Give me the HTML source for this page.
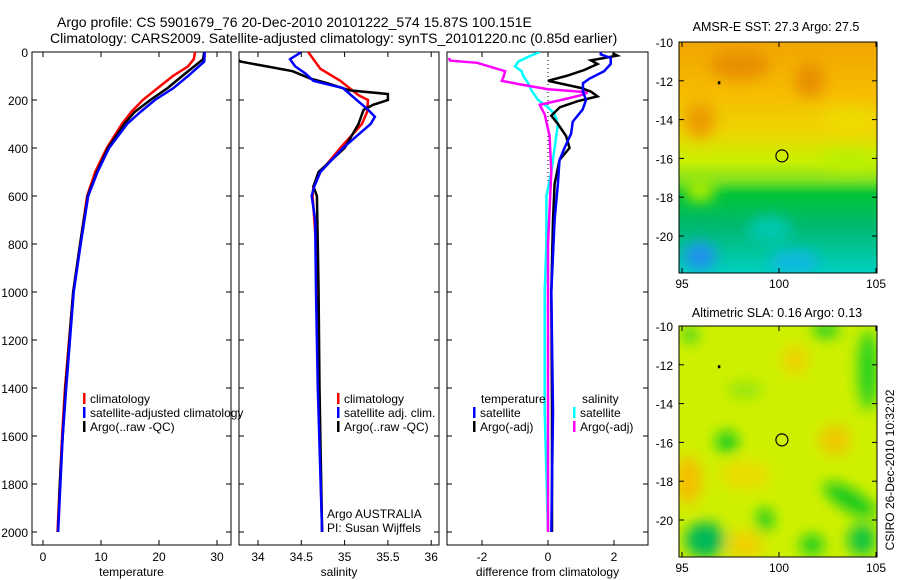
<!DOCTYPE html>
<html><head><meta charset="utf-8">
<style>
body{margin:0;background:#fff;}
svg{display:block;font-family:"Liberation Sans",sans-serif;}
text{fill:#000;}
</style></head>
<body>
<svg id="fig" width="900" height="580" viewBox="0 0 900 580" xmlns="http://www.w3.org/2000/svg">
<defs>
<filter id="blur" x="-20%" y="-20%" width="140%" height="140%"><feGaussianBlur stdDeviation="7"/></filter>
<clipPath id="c1"><rect x="32" y="52" width="199" height="493"/></clipPath>
<clipPath id="c2"><rect x="239" y="52" width="200" height="493"/></clipPath>
<clipPath id="c3"><rect x="447" y="52" width="201" height="493"/></clipPath>
<clipPath id="cm1"><rect x="679" y="42" width="198" height="231"/></clipPath>
<clipPath id="cm2"><rect x="679" y="326" width="198" height="231"/></clipPath>
<linearGradient id="sstg" x1="0" y1="0" x2="0" y2="1">
<stop offset="0" stop-color="#f0a400"/><stop offset="0.22" stop-color="#f6bc00"/>
<stop offset="0.38" stop-color="#eed400"/><stop offset="0.52" stop-color="#c8f000"/>
<stop offset="0.6" stop-color="#80e020"/><stop offset="0.66" stop-color="#00c438"/>
<stop offset="0.8" stop-color="#00b870"/><stop offset="1" stop-color="#00d0c0"/>
</linearGradient>
</defs>

<text x="57" y="27" font-size="14">Argo profile: CS 5901679_76 20-Dec-2010 20101222_574 15.87S 100.151E</text>
<text x="50" y="43" font-size="14">Climatology: CARS2009. Satellite-adjusted climatology: synTS_20101220.nc (0.85d earlier)</text>

<g id="axes"></g>
<g id="series"></g>

<!-- Map 1 -->
<g clip-path="url(#cm1)">
<rect x="679" y="42" width="198" height="231" fill="url(#sstg)"/>
<g filter="url(#blur)">
<ellipse cx="740" cy="65" rx="30" ry="15" fill="#e89000"/>
<ellipse cx="810" cy="80" rx="15" ry="18" fill="#e89000"/>
<ellipse cx="700" cy="120" rx="16" ry="18" fill="#ec9c00"/>
<ellipse cx="850" cy="120" rx="30" ry="12" fill="#eedc00"/>
<ellipse cx="850" cy="160" rx="30" ry="10" fill="#b8f000"/>
<ellipse cx="700" cy="190" rx="15" ry="12" fill="#a8ec00"/>
<ellipse cx="700" cy="256" rx="16" ry="14" fill="#2090f0"/>
<ellipse cx="795" cy="262" rx="25" ry="12" fill="#10b8e0"/>
<ellipse cx="770" cy="230" rx="22" ry="14" fill="#00c8b0"/>
</g>
</g>
<rect x="679" y="42" width="198" height="231" fill="none" stroke="#000"/>
<text x="776" y="31" font-size="12.5" text-anchor="middle">AMSR-E SST: 27.3 Argo: 27.5</text>

<!-- Map 2 -->
<g clip-path="url(#cm2)">
<rect x="679" y="326" width="198" height="231" fill="#cef000"/>
<g filter="url(#blur)">
<ellipse cx="688" cy="480" rx="14" ry="25" fill="#f4c000"/>
<ellipse cx="795" cy="360" rx="12" ry="15" fill="#f0d000"/>
<ellipse cx="835" cy="440" rx="16" ry="15" fill="#f0c800"/>
<ellipse cx="745" cy="475" rx="25" ry="14" fill="#ecdc00"/>
<ellipse cx="745" cy="545" rx="18" ry="14" fill="#f0d000"/>
<ellipse cx="705" cy="540" rx="20" ry="18" fill="#00b858"/>
<ellipse cx="727" cy="442" rx="11" ry="11" fill="#10cc20"/>
<ellipse cx="850" cy="500" rx="30" ry="10" fill="#10c820" transform="rotate(30 850 500)"/>
<ellipse cx="868" cy="370" rx="10" ry="40" fill="#20d020"/>
<ellipse cx="826" cy="330" rx="14" ry="8" fill="#20d020"/>
<ellipse cx="765" cy="520" rx="8" ry="12" fill="#10cc20"/>
<ellipse cx="812" cy="545" rx="12" ry="10" fill="#10cc20"/>
<ellipse cx="862" cy="540" rx="14" ry="16" fill="#10c440"/>
<ellipse cx="745" cy="390" rx="18" ry="8" fill="#90e410"/>
<ellipse cx="690" cy="335" rx="8" ry="8" fill="#30d020"/>
</g>
</g>
<rect x="679" y="326" width="198" height="231" fill="none" stroke="#000"/>
<text x="777" y="317" font-size="12.5" text-anchor="middle">Altimetric SLA: 0.16 Argo: 0.13</text>
<g id="maps"></g>
<text transform="translate(894 470) rotate(-90)" font-size="12" text-anchor="middle">CSIRO 26-Dec-2010 10:32:02</text>
</svg>
<script>
const NS="http://www.w3.org/2000/svg";
// depth ticks
const depthTicks=[0,200,400,600,800,1000,1200,1400,1600,1800,2000];
const tempTicks=[0,10,20,30];
const salTicks=[34,34.5,35,35.5,36];
const diffTicks=[-2,0,2];
// temperature profiles
const climTempDepth=[0,30,60,100,150,200,250,300,400,500,600,800,1000,1400,1600,1800,2000];
const climTemp=[26.2,26.0,25.0,22.4,19.8,17.2,15.2,13.6,11.0,9.0,7.6,6.4,5.2,3.8,3.3,2.9,2.5];
const satTempDepth=[0,40,100,150,200,250,300,400,500,600,800,1000,1400,1600,1800,2000];
const satTemp=[27.9,27.8,25.0,22.5,19.3,16.8,14.5,11.4,9.4,7.8,6.5,5.3,4.0,3.4,3.0,2.6];
const argoTempDepth=[0,30,100,150,200,250,300,400,500,600,800,1000,1400,1600,1800,2000];
const argoTemp=[27.8,27.6,24.0,21.5,18.5,15.8,14.0,11.2,9.3,7.7,6.4,5.2,3.9,3.4,2.9,2.6];
// salinity profiles
const climSalDepth=[0,70,120,180,200,250,300,400,500,560,600,800,1000,1400,2000];
const climSal=[34.58,34.72,34.95,35.16,35.27,35.26,35.2,34.95,34.72,34.64,34.63,34.67,34.68,34.7,34.74];
const satSalDepth=[0,5,30,60,90,120,150,200,240,270,300,400,500,560,600,700,1000,1400,2000];
const satSal=[34.48,34.48,34.37,34.43,34.55,34.64,34.98,35.14,35.27,35.35,35.3,34.98,34.72,34.65,34.62,34.66,34.67,34.69,34.74];
const argoSalDepth=[28,40,60,80,110,130,160,175,200,220,240,260,300,400,500,560,600,800,1000,1400,2000];
const argoSal=[33.75,33.8,34.1,34.4,34.6,34.8,35.06,35.5,35.5,35.33,35.22,35.2,35.16,35.0,34.7,34.64,34.68,34.69,34.7,34.71,34.74];
// difference profiles
const satTDiffDepth=[0,10,25,50,80,110,130,165,200,240,290,340,400,450,550,700,1000,1500,2000];
const satTDiff=[1.6,1.6,1.9,1.9,1.7,1.27,1.06,1.06,1.15,1.05,0.75,0.7,0.5,0.35,0.3,0.2,0.1,0.15,0.1];
const argoTDiffDepth=[5,15,35,50,75,100,120,135,150,165,185,205,230,265,300,350,400,450,550,700,1000,1500,2000];
const argoTDiff=[1.95,2.1,1.3,1.5,1.1,0.55,0.0,0.5,1.0,1.3,1.5,0.9,0.36,0.1,0.3,0.55,0.65,0.35,0.2,0.15,0.1,0.12,0.12];
const satSDiffDepth=[0,20,40,60,80,100,130,160,200,230,260,300,400,500,600,800,1000,1500,2000];
const satSDiff=[-0.25,-0.6,-0.9,-1.0,-0.8,-0.75,-0.6,-0.5,-0.3,0.0,0.2,0.3,0.2,0.1,-0.05,-0.05,-0.1,-0.1,0.0];
const argoSDiffDepth=[25,36,45,80,105,120,135,155,168,180,200,220,260,350,500,800,1500,2000];
const argoSDiff=[-3.0,-2.97,-2.15,-1.3,-1.35,-1.4,-0.85,0,1.2,1.0,0.4,-0.25,-0.1,0.05,0.1,0.0,0.0,0.0];
// maps
const mapLonTicks=[95,100,105];
const mapLatTicks=[-10,-12,-14,-16,-18,-20];
const floatPos=[100.15,-15.87];
const prevPos=[96.9,-12.1];

const yD=d=>52+d*0.24;
const xT=t=>43+t*5.8;
const xS=s=>258+(s-34)*86.6;
const xDf=v=>548+v*33;
const mx=lon=>682+(lon-95)*19.4;
const my1=lat=>42+(-10-lat)*19.4;
const my2=lat=>326+(-10-lat)*19.4;

function el(tag,attrs,parent,text){const e=document.createElementNS(NS,tag);for(const k in attrs)e.setAttribute(k,attrs[k]);if(text!==undefined)e.textContent=text;parent.appendChild(e);return e;}
const axes=document.getElementById('axes');
const series=document.getElementById('series');

const panels=[
 {x0:32,x1:231,ticks:tempTicks,fx:xT,label:'temperature',name:'temperature-panel',ylabels:true},
 {x0:239,x1:439,ticks:salTicks,fx:xS,label:'salinity',name:'salinity-panel'},
 {x0:447,x1:648,ticks:diffTicks,fx:xDf,label:'difference from climatology',name:'difference-panel'}
];
panels.forEach(p=>{
 const r=el('rect',{x:p.x0,y:52,width:p.x1-p.x0,height:493,fill:'none',stroke:'#000'},axes);
 
 
 depthTicks.forEach(d=>{
  el('line',{x1:p.x0,x2:p.x0+5,y1:yD(d),y2:yD(d),stroke:'#000'},axes);
  el('line',{x1:p.x1,x2:p.x1-5,y1:yD(d),y2:yD(d),stroke:'#000'},axes);
  if(p.ylabels){const t=el('text',{x:28,y:yD(d)+5,'font-size':12,'text-anchor':'end'},axes,String(d));
   
   }
 });
 p.ticks.forEach(v=>{
  const x=p.fx(v);
  el('line',{x1:x,x2:x,y1:545,y2:540,stroke:'#000'},axes);
  el('line',{x1:x,x2:x,y1:52,y2:57,stroke:'#000'},axes);
  const t=el('text',{x:x,y:561,'font-size':12,'text-anchor':'middle'},axes,String(v));
  
  
 });
 const lt=el('text',{x:(p.x0+p.x1)/2,y:576,'font-size':12,'text-anchor':'middle'},axes,p.label);
 
 
});
// dotted zero line
const zl=el('line',{x1:xDf(0),x2:xDf(0),y1:52,y2:yD(600),stroke:'#000','stroke-dasharray':'1 3'},axes);



function profile(depths,vals,fx,color,clip,name){
 const pts=depths.map((d,i)=>fx(vals[i]).toFixed(1)+','+yD(d).toFixed(1)).join(' ');
 const pl=el('polyline',{points:pts,fill:'none',stroke:color,'stroke-width':2.5,'clip-path':'url(#'+clip+')'},series);
 
 
}
profile(climTempDepth,climTemp,xT,'#f00','c1','climatology-temperature-line');
profile(argoTempDepth,argoTemp,xT,'#000','c1','argo-temperature-line');
profile(satTempDepth,satTemp,xT,'#00f','c1','satellite-temperature-line');
profile(climSalDepth,climSal,xS,'#f00','c2','climatology-salinity-line');
profile(argoSalDepth,argoSal,xS,'#000','c2','argo-salinity-line');
profile(satSalDepth,satSal,xS,'#00f','c2','satellite-salinity-line');
profile(satSDiffDepth,satSDiff,xDf,'#0ff','c3','satellite-salinity-diff-line');
profile(argoSDiffDepth,argoSDiff,xDf,'#f0f','c3','argo-salinity-diff-line');
profile(argoTDiffDepth,argoTDiff,xDf,'#000','c3','argo-temperature-diff-line');
profile(satTDiffDepth,satTDiff,xDf,'#00f','c3','satellite-temperature-diff-line');

function legend(x,y,color,label,name){
 if(color){el('rect',{x:x,y:y-10,width:2.5,height:11,fill:color},series);}
 const t=el('text',{x:x+7,y:y,'font-size':12},series,label);
 
 
}
legend(83,403,'#f00','climatology','legend-climatology');
legend(83,417,'#00f','satellite-adjusted climatology','legend-satellite-adjusted');
legend(83,431,'#000','Argo(..raw -QC)','legend-argo');
legend(337,403,'#f00','climatology','legend-sal-climatology');
legend(337,417,'#00f','satellite adj. clim.','legend-sal-satellite');
legend(337,431,'#000','Argo(..raw -QC)','legend-sal-argo');
legend(320,518,null,'Argo AUSTRALIA','argo-australia-label');
legend(320,532,null,'PI: Susan Wijffels','pi-label');
legend(474,403,null,'temperature','legend-temperature-header');
legend(473,417,'#00f','satellite','legend-temp-satellite');
legend(473,431,'#000','Argo(-adj)','legend-temp-argo');
legend(575,403,null,'salinity','legend-salinity-header');
legend(573,417,'#0ff','satellite','legend-sal-diff-satellite');
legend(573,431,'#f0f','Argo(-adj)','legend-sal-diff-argo');

const maps=document.getElementById('maps');
[[my1,42,273,'sst'],[my2,326,557,'sla']].forEach(([fy,top,bot,nm])=>{
 mapLatTicks.forEach(v=>{
  const y=fy(v);
  el('line',{x1:679,x2:684,y1:y,y2:y,stroke:'#000'},maps);
  el('line',{x1:877,x2:872,y1:y,y2:y,stroke:'#000'},maps);
  const t=el('text',{x:673,y:y+5,'font-size':12,'text-anchor':'end'},maps,String(v));
  
  
 });
 mapLonTicks.forEach(v=>{
  const x=mx(v);
  el('line',{x1:x,x2:x,y1:bot,y2:bot-5,stroke:'#000'},maps);
  el('line',{x1:x,x2:x,y1:top,y2:top+5,stroke:'#000'},maps);
  const t=el('text',{x:x,y:bot+15,'font-size':12,'text-anchor':'middle'},maps,String(v));
  
  
 });
 const c=el('circle',{cx:mx(floatPos[0]),cy:fy(floatPos[1]),r:6,fill:'none',stroke:'#000','stroke-width':1.2},maps);
 
 
 const d=el('rect',{x:mx(prevPos[0])-1,y:fy(prevPos[1])-1.5,width:2.5,height:3,fill:'#000'},maps);
 
 
});
</script>
</body></html>
